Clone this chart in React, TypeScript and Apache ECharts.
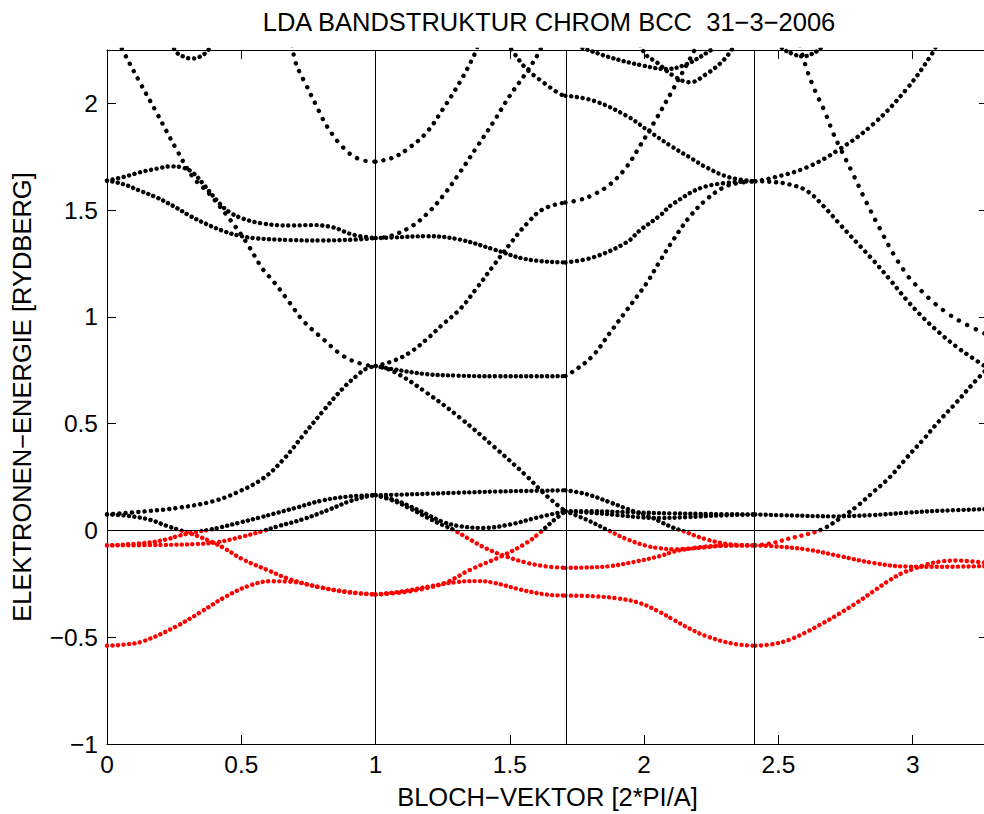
import React, { useEffect, useRef } from "react";
import * as echarts from "echarts";

const TITLE = "LDA BANDSTRUKTUR CHROM BCC  31−3−2006";
const X_NAME = "BLOCH−VEKTOR [2*PI/A]";
const Y_NAME = "ELEKTRONEN−ENERGIE [RYDBERG]";

const xRange = [0, 3.2802];
const yRange = [-1, 2.25];
const xTickValues = [0, 0.5, 1, 1.5, 2, 2.5, 3];
const xTickLabels = ["0", "0.5", "1", "1.5", "2", "2.5", "3"];
const yTickValues = [-1, -0.5, 0, 0.5, 1, 1.5, 2];
const yTickLabels = ["−1", "−0.5", "0", "0.5", "1", "1.5", "2"];
// high-symmetry points H, N, Gamma (Gamma at 0, P at the right edge)
const symmetryPoints = [1, 1.7071, 2.4142];
const fermiLevel = 0;

// ---- Gamma - H ----
const bandGH_s = [[0, -0.54], [0.06, -0.535], [0.134, -0.519], [0.258, -0.449], [0.345, -0.385], [0.445, -0.308], [0.531, -0.258], [0.607, -0.238], [0.68, -0.24], [0.8, -0.268], [0.9, -0.29], [1, -0.3]];
const bandGH_d2 = [[0, 0.075], [0.08, 0.068], [0.16, 0.05], [0.221, 0.022], [0.27, 0.002], [0.339, -0.027], [0.395, -0.057], [0.432, -0.08], [0.507, -0.136], [0.606, -0.19], [0.68, -0.228], [0.8, -0.268], [0.905, -0.289], [1, -0.3]];
const bandGH_d5a = [[0, -0.07], [0.147, -0.058], [0.221, -0.042], [0.27, -0.024], [0.334, -0.007], [0.38, 0.003], [0.42, 0.014], [0.494, 0.037], [0.569, 0.061], [0.62, 0.078], [0.7, 0.105], [0.8, 0.14], [0.9, 0.159], [1, 0.165]];
const bandGH_d5b = [[0, -0.07], [0.2, -0.068], [0.33, -0.064], [0.41, -0.055], [0.5, -0.03], [0.58, -0.003], [0.632, 0.018], [0.73, 0.053], [0.83, 0.099], [0.904, 0.137], [0.97, 0.16], [1, 0.165]];
const bandGH_d1 = [[0, 0.075], [0.147, 0.09], [0.27, 0.107], [0.395, 0.137], [0.482, 0.177], [0.58, 0.243], [0.655, 0.33], [0.73, 0.445], [0.805, 0.56], [0.878, 0.665], [0.93, 0.725], [0.966, 0.758], [1, 0.77]];
const bandGH_lower = [[0, 1.638], [0.06, 1.622], [0.122, 1.591], [0.184, 1.56], [0.246, 1.52], [0.308, 1.474], [0.37, 1.435], [0.432, 1.403], [0.494, 1.38], [0.556, 1.368], [0.68, 1.36], [0.8, 1.358], [0.92, 1.362], [1, 1.369]];
const bandGH_upper = [[0, 1.638], [0.06, 1.655], [0.122, 1.677], [0.184, 1.694], [0.24, 1.705], [0.28, 1.7], [0.32, 1.675], [0.36, 1.62], [0.42, 1.53], [0.457, 1.49], [0.507, 1.46], [0.582, 1.437], [0.68, 1.428], [0.76, 1.43], [0.84, 1.42], [0.916, 1.385], [1, 1.369]];
const bandGH_steep = [[0, 2.4], [0.03, 2.32], [0.06, 2.245], [0.122, 2.099], [0.184, 1.958], [0.258, 1.786], [0.32, 1.655], [0.382, 1.575], [0.457, 1.458], [0.519, 1.349], [0.58, 1.224], [0.618, 1.169], [0.68, 1.067], [0.731, 0.981], [0.806, 0.895], [0.88, 0.817], [0.953, 0.778], [1, 0.77]];
const bandGH_top = [[0.24, 2.28], [0.258, 2.24], [0.283, 2.22], [0.315, 2.21], [0.345, 2.218], [0.376, 2.248], [0.39, 2.28]];

// ---- crossing H (Gamma-H-N) ----
const bandH_1727 = [[0.69, 2.27], [0.699, 2.205], [0.717, 2.146], [0.74, 2.09], [0.759, 2.04], [0.78, 1.988], [0.798, 1.94], [0.819, 1.893], [0.839, 1.855], [0.86, 1.82], [0.879, 1.794], [0.898, 1.77], [0.919, 1.752], [0.939, 1.739], [0.96, 1.731], [1, 1.727], [1.066, 1.747], [1.127, 1.794], [1.19, 1.864], [1.251, 1.974], [1.314, 2.1], [1.369, 2.231], [1.38, 2.27]];

// ---- H - N - Gamma ----
const bandHN_steep = [[1, 1.369], [1.052, 1.378], [1.127, 1.419], [1.19, 1.481], [1.251, 1.567], [1.314, 1.677], [1.376, 1.794], [1.438, 1.911], [1.5, 2.036], [1.562, 2.146], [1.605, 2.231], [1.62, 2.27]];
const bandHN_136 = [[1, 1.369], [1.066, 1.372], [1.19, 1.378], [1.314, 1.362], [1.438, 1.317], [1.562, 1.27], [1.707, 1.255], [1.81, 1.279], [1.934, 1.349], [1.984, 1.405], [2.058, 1.474], [2.108, 1.53], [2.232, 1.612], [2.414, 1.635]];
const bandHN_077up = [[1, 0.77], [1.066, 0.794], [1.127, 0.833], [1.19, 0.895], [1.251, 0.966], [1.314, 1.036], [1.376, 1.134], [1.438, 1.239], [1.5, 1.341], [1.562, 1.435], [1.624, 1.505], [1.707, 1.536], [1.76, 1.548], [1.81, 1.572], [1.87, 1.618], [1.93, 1.695], [1.984, 1.8], [2.046, 1.93], [2.108, 2.067], [2.17, 2.208], [2.2, 2.28]];
const bandHN_fromTop = [[1.49, 2.28], [1.513, 2.24], [1.562, 2.161], [1.624, 2.099], [1.686, 2.044], [1.707, 2.036], [1.81, 2.013], [1.934, 1.942], [2.02, 1.868], [2.1, 1.8], [2.17, 1.747], [2.232, 1.7], [2.319, 1.653], [2.414, 1.635]];
const bandHN_077flat = [[1, 0.77], [1.066, 0.755], [1.19, 0.732], [1.3, 0.725], [1.45, 0.722], [1.6, 0.722], [1.707, 0.723], [1.748, 0.755], [1.81, 0.82], [1.872, 0.925], [1.934, 1.03], [2.009, 1.158], [2.058, 1.26], [2.108, 1.36], [2.17, 1.47], [2.232, 1.55], [2.294, 1.605], [2.35, 1.627], [2.414, 1.635]];
const bandHN_077down = [[1, 0.77], [1.066, 0.745], [1.19, 0.645], [1.314, 0.528], [1.438, 0.395], [1.562, 0.255], [1.624, 0.177], [1.686, 0.11], [1.707, 0.09], [1.786, 0.05], [1.872, -0.003], [1.934, -0.04], [2.009, -0.072], [2.058, -0.083], [2.108, -0.088], [2.2, -0.082], [2.294, -0.072], [2.414, -0.07]];
const bandHN_0165flat = [[1, 0.165], [1.1, 0.168], [1.2, 0.172], [1.314, 0.177], [1.45, 0.182], [1.562, 0.185], [1.707, 0.188], [1.786, 0.17], [1.872, 0.132], [1.96, 0.09], [2.02, 0.065], [2.07, 0.035], [2.108, 0.013], [2.145, -0.003], [2.232, -0.042], [2.33, -0.066], [2.414, -0.07]];
const bandHN_0165dip = [[1, 0.165], [1.065, 0.145], [1.127, 0.114], [1.189, 0.077], [1.251, 0.04], [1.314, 0.02], [1.4, 0.012], [1.5, 0.028], [1.6, 0.06], [1.707, 0.09], [1.8, 0.09], [1.95, 0.085], [2.1, 0.08], [2.25, 0.077], [2.414, 0.075]];
const bandHN_0165down = [[1, 0.165], [1.065, 0.14], [1.13, 0.102], [1.19, 0.062], [1.25, 0.025], [1.29, 0.003], [1.351, -0.042], [1.41, -0.083], [1.475, -0.117], [1.562, -0.151], [1.64, -0.169], [1.707, -0.175], [1.8, -0.173], [1.872, -0.167], [1.96, -0.148], [2.058, -0.12], [2.108, -0.1], [2.17, -0.085], [2.232, -0.075], [2.32, -0.07], [2.414, -0.07]];
const bandHN_030up = [[1, -0.3], [1.1, -0.29], [1.19, -0.27], [1.264, -0.243], [1.351, -0.185], [1.475, -0.117], [1.562, -0.058], [1.612, -0.01], [1.661, 0.045], [1.707, 0.09], [1.8, 0.083], [1.9, 0.072], [1.984, 0.062], [2.06, 0.058], [2.15, 0.062], [2.3, 0.071], [2.414, 0.075]];
const bandHN_s = [[1, -0.3], [1.1, -0.285], [1.2, -0.262], [1.3, -0.242], [1.38, -0.237], [1.44, -0.245], [1.54, -0.277], [1.636, -0.3], [1.707, -0.305], [1.81, -0.308], [1.9, -0.318], [1.984, -0.34], [2.058, -0.382], [2.108, -0.417], [2.17, -0.46], [2.232, -0.495], [2.33, -0.53], [2.414, -0.54]];
const bandNG_topA = [[1.77, 2.26], [1.872, 2.216], [1.996, 2.177], [2.084, 2.161], [2.145, 2.177], [2.207, 2.216], [2.26, 2.26]];
const bandNG_topB = [[1.985, 2.27], [2.009, 2.224], [2.046, 2.193], [2.108, 2.13], [2.17, 2.099], [2.232, 2.138], [2.294, 2.2], [2.33, 2.26]];

// ---- Gamma - P ----
const bandGP_s = [[2.414, -0.54], [2.48, -0.532], [2.542, -0.511], [2.605, -0.475], [2.667, -0.433], [2.73, -0.387], [2.791, -0.339], [2.853, -0.285], [2.915, -0.232], [2.96, -0.2], [3.003, -0.18], [3.05, -0.16], [3.1, -0.146], [3.163, -0.141], [3.22, -0.145], [3.2802, -0.152]];
const bandGP_l3low = [[2.414, -0.07], [2.48, -0.074], [2.605, -0.089], [2.728, -0.12], [2.853, -0.152], [2.977, -0.169], [3.1, -0.17], [3.2802, -0.167]];
const bandGP_l1 = [[2.414, -0.07], [2.48, -0.058], [2.542, -0.037], [2.605, -0.018], [2.667, 0.008], [2.735, 0.062], [2.791, 0.112], [2.853, 0.18], [2.915, 0.25], [2.977, 0.34], [3.04, 0.427], [3.1, 0.515], [3.163, 0.6], [3.226, 0.69], [3.2802, 0.76]];
const bandGP_l3mid = [[2.414, 0.075], [2.55, 0.07], [2.7, 0.066], [2.85, 0.072], [2.977, 0.083], [3.1, 0.092], [3.2802, 0.1]];
const bandGP_down = [[2.414, 1.635], [2.48, 1.632], [2.542, 1.62], [2.605, 1.591], [2.667, 1.52], [2.728, 1.435], [2.791, 1.349], [2.853, 1.265], [2.915, 1.175], [2.977, 1.08], [3.04, 0.995], [3.1, 0.925], [3.163, 0.86], [3.226, 0.805], [3.2802, 0.76]];
const bandGP_up = [[2.414, 1.635], [2.48, 1.652], [2.605, 1.7], [2.728, 1.786], [2.853, 1.903], [2.977, 2.067], [3.076, 2.24], [3.09, 2.28]];
const bandGP_steep = [[2.58, 2.27], [2.605, 2.161], [2.636, 2.06], [2.673, 1.96], [2.704, 1.86], [2.728, 1.795], [2.779, 1.665], [2.828, 1.535], [2.879, 1.41], [2.928, 1.295], [2.977, 1.2], [3.0, 1.165], [3.064, 1.083], [3.126, 1.02], [3.188, 0.972], [3.2802, 0.915]];
const bandGP_top = [[2.5, 2.28], [2.517, 2.255], [2.555, 2.231], [2.59, 2.22], [2.623, 2.231], [2.654, 2.255], [2.67, 2.28]];

const bands = [
  bandGH_s, bandGH_d2, bandGH_d5a, bandGH_d5b, bandGH_d1, bandGH_lower, bandGH_upper, bandGH_steep, bandGH_top,
  bandH_1727,
  bandHN_steep, bandHN_136, bandHN_077up, bandHN_fromTop, bandHN_077flat, bandHN_077down,
  bandHN_0165flat, bandHN_0165dip, bandHN_0165down, bandHN_030up, bandHN_s, bandNG_topA, bandNG_topB,
  bandGP_s, bandGP_l3low, bandGP_l1, bandGP_l3mid, bandGP_down, bandGP_up, bandGP_steep, bandGP_top,
];

const FONT = "'Liberation Sans', Arial, Helvetica, sans-serif";
const TXT = { fontFamily: FONT, fontSize: 25.5, color: "#000", fontWeight: "normal" as const };
const TICK_TXT = { ...TXT, fontSize: 24.5 };

// plot geometry (pixels per data unit), used only to pick dot spacing
const GRID = { left: 107, top: 50, right: -4, bottom: 70 };
const PX_X = (984 - GRID.left - GRID.right) / (xRange[1] - xRange[0]);
const PX_Y = (814 - GRID.top - GRID.bottom) / (yRange[1] - yRange[0]);
const DOT = 4.4;
const DOT_STEP = 5.2;

function tickFormatter(values: number[], labels: string[]) {
  return (v: number) => {
    const i = values.findIndex((t) => Math.abs(t - v) < 1e-6);
    return i >= 0 ? labels[i] : "";
  };
}

// split a band at the high-symmetry points so each piece gets its own dot spacing
function splitBand(band: number[][]) {
  const cuts = symmetryPoints;
  const pieces: number[][][] = [];
  let cur: number[][] = [];
  band.forEach((p) => {
    cur.push(p);
    if (cur.length > 1 && cuts.some((c) => Math.abs(c - p[0]) < 0.003)) {
      pieces.push(cur);
      cur = [p];
    }
  });
  if (cur.length > 1) pieces.push(cur);
  return pieces;
}

// dots in the reference are spaced evenly in k, so along steep curves they sit further apart
function dotGap(piece: number[][]) {
  let arc = 0;
  let run = 0;
  for (let i = 1; i < piece.length; i++) {
    const [x0, y0] = piece[i - 1];
    const [x1, y1] = piece[i];
    if (y0 > yRange[1] || y1 > yRange[1]) continue;
    const dx = (x1 - x0) * PX_X;
    const dy = (y1 - y0) * PX_Y;
    arc += Math.hypot(dx, dy);
    run += dx;
  }
  const ratio = run > 0 ? arc / run : 1;
  return Math.min(11, Math.max(DOT_STEP, DOT_STEP * ratio));
}

function buildOption() {
  const axisLine = { show: true, onZero: false, lineStyle: { color: "#000", width: 1 } };
  const axisTick = { show: true, inside: true, length: 9, lineStyle: { color: "#000", width: 1 } };
  const bandSeries: any[] = [];
  bands.forEach((band, b) => {
    splitBand(band).forEach((piece, j) => {
      const gap = dotGap(piece);
      bandSeries.push({
        type: "line",
        name: "band" + b + "_" + j,
        data: piece,
        smooth: 0.4,
        symbol: "none",
        showSymbol: false,
        clip: true,
        silent: true,
        z: 3,
        lineStyle: { width: DOT, type: [0.1, gap - 0.1], cap: "round", join: "round" },
      });
    });
  });
  return {
    animation: false,
    backgroundColor: "#ffffff",
    title: {
      text: TITLE,
      left: 549,
      top: 9,
      textAlign: "center",
      padding: 0,
      textStyle: { ...TXT },
    },
    grid: { ...GRID, containLabel: false, outerBoundsMode: "none" },
    xAxis: [
      {
        type: "value",
        position: "bottom",
        min: xRange[0],
        max: xRange[1],
        interval: 0.5,
        name: X_NAME,
        nameLocation: "middle",
        nameGap: 40,
        nameTextStyle: { ...TXT },
        axisLine,
        axisTick,
        axisLabel: { ...TICK_TXT, margin: 8, formatter: tickFormatter(xTickValues, xTickLabels) },
        splitLine: { show: false },
      },
      {
        type: "value",
        position: "top",
        min: xRange[0],
        max: xRange[1],
        interval: 0.5,
        axisLine,
        axisTick,
        axisLabel: { show: false },
        splitLine: { show: false },
      },
    ],
    yAxis: [
      {
        type: "value",
        position: "left",
        min: yRange[0],
        max: yRange[1],
        interval: 0.5,
        name: Y_NAME,
        nameLocation: "middle",
        nameGap: 72,
        nameRotate: 90,
        nameTextStyle: { ...TXT },
        axisLine,
        axisTick,
        axisLabel: { ...TICK_TXT, margin: 9, formatter: tickFormatter(yTickValues, yTickLabels) },
        splitLine: { show: false },
      },
      {
        type: "value",
        position: "right",
        min: yRange[0],
        max: yRange[1],
        interval: 0.5,
        axisLine,
        axisTick,
        axisLabel: { show: false },
        splitLine: { show: false },
      },
    ],
    visualMap: {
      show: false,
      type: "piecewise",
      dimension: 1,
      seriesIndex: bandSeries.map((_, i) => i + 1),
      pieces: [
        { gte: -10, lt: fermiLevel, color: "#ff0000" },
        { gte: fermiLevel, lte: 10, color: "#000000" },
      ],
    },
    series: [
      {
        type: "line",
        name: "ref",
        data: [],
        silent: true,
        z: 1,
        markLine: {
          silent: true,
          symbol: ["none", "none"],
          label: { show: false },
          lineStyle: { color: "#000", width: 1, type: "solid" },
          emphasis: { disabled: true },
          data: [
            ...symmetryPoints.map((x) => ({ xAxis: x })),
            { yAxis: fermiLevel },
          ],
        },
      },
      ...bandSeries,
    ],
  };
}

export default function App() {
  const ref = useRef<HTMLDivElement>(null);
  useEffect(() => {
    if (!ref.current) return;
    const chart = echarts.init(ref.current, null, { renderer: "svg" });
    chart.setOption(buildOption() as any);
    return () => chart.dispose();
  }, []);
  return (
    <div
      ref={ref}
      style={{ position: "absolute", left: 0, top: 0, width: 984, height: 814, background: "#fff" }}
    />
  );
}
